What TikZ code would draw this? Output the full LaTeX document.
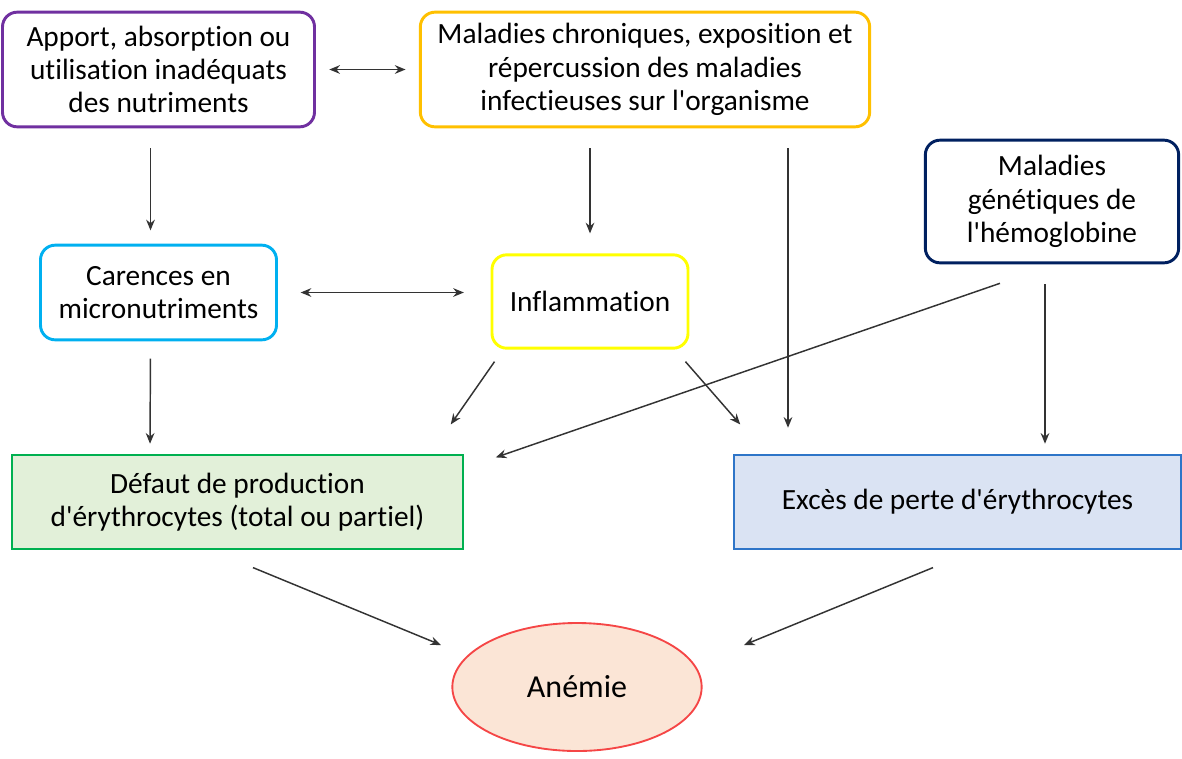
\documentclass[tikz,border=0pt]{standalone}
\usepackage{fontspec}
\setmainfont{Carlito}[Ligatures=NoCommon]
\usepackage{xcolor}
\definecolor{nutrc}{RGB}{112, 48, 160}
\definecolor{chronc}{RGB}{255, 192, 0}
\definecolor{genec}{RGB}{0, 32, 96}
\definecolor{carc}{RGB}{0, 176, 240}
\definecolor{inflc}{RGB}{255, 255, 0}
\definecolor{prodc}{RGB}{0, 176, 80}
\definecolor{prodf}{RGB}{226, 240, 217}
\definecolor{excc}{RGB}{46, 117, 200}
\definecolor{excf}{RGB}{218, 227, 243}
\definecolor{anemc}{RGB}{245, 70, 70}
\definecolor{anemf}{RGB}{251, 229, 214}
\usepackage{tikz}
\usetikzlibrary{arrows.meta,shapes.geometric,calc}
\tikzstyle{cause} = [draw,rounded corners=11pt,line width=2.2pt,align=center,text=black,inner sep=2pt]
\tikzstyle{effet} = [draw,line width=1.4pt,align=center,text=black,inner sep=2pt]
\tikzstyle{link} = [line width=1.1pt,draw=black!80,-{Stealth[length=8pt,width=6.5pt]}]
\tikzstyle{both} = [line width=1.1pt,draw=black!80,{Stealth[length=8pt,width=6.5pt]}-{Stealth[length=8pt,width=6.5pt]}]
\newcommand{\apos}{\textquotesingle}

\begin{document}
\begin{tikzpicture}[x=0.75pt,y=-0.75pt,font=\fontsize{22}{25}\selectfont]
    \useasboundingbox (0,0) rectangle (1182,758);
    % causes
    \node[cause,draw=nutrc,minimum width=234pt,minimum height=86pt] (nutr) at (158.5,69.5)
        {Apport, absorption ou\\utilisation inadéquats\\des nutriments};
    \node[cause,draw=chronc,minimum width=337pt,minimum height=86pt] (chron) at (645,69.5)
        {Maladies chroniques, exposition et\\répercussion des maladies\\infectieuses sur l\apos organisme};
    \node[cause,draw=genec,minimum width=190pt,minimum height=92pt] (gene) at (1052,201.5)
        {Maladies\\génétiques de\\l\apos hémoglobine};
    \node[cause,draw=carc,minimum width=177pt,minimum height=71pt] (car) at (158.5,292.5)
        {Carences en\\micronutriments};
    \node[cause,draw=inflc,minimum width=147pt,minimum height=70pt] (infl) at (590,301.5)
        {Inflammation};
    % effets
    \node[effet,draw=prodc,fill=prodf,minimum width=338pt,minimum height=70pt] (prod) at (237.5,502)
        {Défaut de production\\d\apos érythrocytes (total ou partiel)};
    \node[effet,draw=excc,fill=excf,minimum width=335pt,minimum height=70pt] (exces) at (957.5,502)
        {Excès de perte d\apos érythrocytes};
    \node[ellipse,draw=anemc,fill=anemf,line width=1.4pt,minimum width=187pt,minimum height=96pt,text=black,
        font=\fontsize{24}{28}\selectfont] (anem) at (577,687)
        {Anémie};

    \draw[both,shorten <=10pt,shorten >=10pt] (nutr.east) -- (chron.west);
    \draw[both,shorten <=17pt,shorten >=20pt] (car.east) -- (car.east -| infl.west);
    \draw[link,shorten <=15pt,shorten >=10pt] ($(nutr.south)+(-8,0)$) -- ($(car.north)+(-8,0)$);
    \draw[link,shorten <=15pt,shorten >=15pt] (chron.south -| infl.north) -- (infl.north);
    \draw[link,shorten <=15pt,shorten >=20pt] ($(chron.south)+(143,0)$) -- ($(exces.north)+(-169.5,0)$);
    \draw[link,shorten <=13pt,shorten >=8pt] ($(car.south)+(-8,0)$) -- ($(prod.north)+(-87.5,0)$);
    \draw[link] ($(infl.south west)+(4,12)$) -- ($(prod.north east)+(-13,-30)$);
    \draw[link] ($(infl.south east)+(-4,12)$) -- ($(exces.north west)+(7,-30)$);
    \draw[link] ($(gene.south)+(-52,19)$) -- ($(prod.north east)+(32,3)$);
    \draw[link,shorten <=15pt,shorten >=8pt] ($(gene.south)+(-7,0)$) -- ($(exces.north)+(87.5,0)$);
    \draw[link] ($(prod.south)+(15.5,18)$) -- ($(anem.center)+(-136,-42)$);
    \draw[link] ($(exces.south)+(-24.5,18)$) -- ($(anem.center)+(167,-42)$);
\end{tikzpicture}
\end{document}
